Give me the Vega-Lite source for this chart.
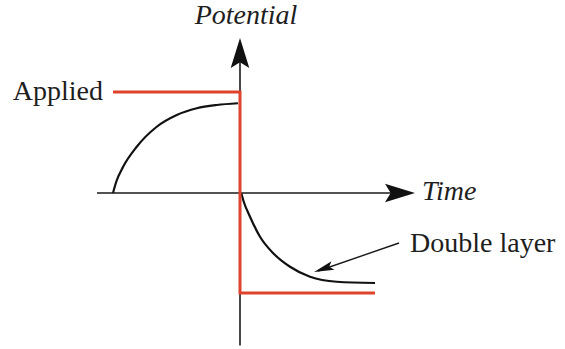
{
  "$schema": "https://vega.github.io/schema/vega-lite/v6.json",
  "width": 565,
  "height": 349,
  "padding": 0,
  "autosize": {"type": "fit", "contains": "padding"},
  "background": "white",
  "config": {"view": {"stroke": null}},
  "datasets": {
    "applied": [
      {"order": 1, "t": -5.08, "v": 4.04},
      {"order": 2, "t": 0.0, "v": 4.04},
      {"order": 3, "t": 0.0, "v": -4.0},
      {"order": 4, "t": 5.4, "v": -4.0}
    ],
    "response": [
      {"segment": "before", "t": -5.08, "v": 0.0},
      {"segment": "before", "t": -4.95, "v": 0.45},
      {"segment": "before", "t": -4.68, "v": 1.04},
      {"segment": "before", "t": -4.13, "v": 1.85},
      {"segment": "before", "t": -3.33, "v": 2.65},
      {"segment": "before", "t": -2.53, "v": 3.12},
      {"segment": "before", "t": -1.73, "v": 3.39},
      {"segment": "before", "t": -0.93, "v": 3.52},
      {"segment": "before", "t": -0.08, "v": 3.59},
      {"segment": "after", "t": 0.05, "v": 0.0},
      {"segment": "after", "t": 0.15, "v": -0.35},
      {"segment": "after", "t": 0.4, "v": -0.95},
      {"segment": "after", "t": 0.8, "v": -1.75},
      {"segment": "after", "t": 1.33, "v": -2.41},
      {"segment": "after", "t": 2.0, "v": -2.95},
      {"segment": "after", "t": 2.8, "v": -3.35},
      {"segment": "after", "t": 3.87, "v": -3.55},
      {"segment": "after", "t": 5.4, "v": -3.6}
    ],
    "axes": [
      {"name": "time axis", "t": -5.72, "v": 0.0, "t2": 6.5, "v2": 0.0},
      {"name": "potential axis", "t": 0.0, "v": -6.1, "t2": 0.0, "v2": 5.6}
    ],
    "pointer": [
      {"name": "double layer pointer", "t": 3.12, "v": -3.12, "t2": 6.36, "v2": -2.0}
    ],
    "headUp": [{"t": 0.0, "v": 5.6}],
    "headRight": [{"t": 6.4, "v": 0.0}],
    "headPointer": [{"t": 3.34, "v": -3.03}],
    "labelPotential": [{"label": "Potential", "t": 0.24, "v": 6.76}],
    "labelTime": [{"label": "Time", "t": 7.28, "v": -0.28}],
    "labelApplied": [{"label": "Applied", "t": -5.48, "v": 3.74}],
    "labelDouble": [{"label": "Double layer", "t": 6.8, "v": -2.36}]
  },
  "layer": [
    {
      "data": {"name": "axes"},
      "mark": {"type": "rule", "color": "#1a1a1a", "strokeWidth": 1.6},
      "encoding": {
        "x": {"field": "t", "type": "quantitative", "scale": {"domain": [-9.6, 13.0], "nice": false, "zero": false}, "axis": null},
        "y": {"field": "v", "type": "quantitative", "scale": {"domain": [-6.24, 7.72], "nice": false, "zero": false}, "axis": null},
        "x2": {"field": "t2"},
        "y2": {"field": "v2"}
      }
    },
    {
      "data": {"name": "response"},
      "mark": {"type": "line", "color": "#111111", "strokeWidth": 2.2, "interpolate": "monotone"},
      "encoding": {
        "x": {"field": "t", "type": "quantitative"},
        "y": {"field": "v", "type": "quantitative"},
        "detail": {"field": "segment"}
      }
    },
    {
      "data": {"name": "applied"},
      "mark": {"type": "line", "color": "#e0432b", "strokeWidth": 3, "strokeJoin": "miter"},
      "encoding": {
        "x": {"field": "t", "type": "quantitative"},
        "y": {"field": "v", "type": "quantitative"},
        "order": {"field": "order", "type": "quantitative"}
      }
    },
    {
      "data": {"name": "pointer"},
      "mark": {"type": "rule", "color": "#1a1a1a", "strokeWidth": 1.4},
      "encoding": {
        "x": {"field": "t", "type": "quantitative"},
        "y": {"field": "v", "type": "quantitative"},
        "x2": {"field": "t2"},
        "y2": {"field": "v2"}
      }
    },
    {
      "data": {"name": "headUp"},
      "mark": {"type": "point", "shape": "M0,-1L0.62,1L0,0.62L-0.62,1Z", "filled": true, "color": "#111111", "opacity": 1, "size": 900, "angle": 0},
      "encoding": {
        "x": {"field": "t", "type": "quantitative"},
        "y": {"field": "v", "type": "quantitative"}
      }
    },
    {
      "data": {"name": "headRight"},
      "mark": {"type": "point", "shape": "M0,-1L0.62,1L0,0.62L-0.62,1Z", "filled": true, "color": "#111111", "opacity": 1, "size": 900, "angle": 90},
      "encoding": {
        "x": {"field": "t", "type": "quantitative"},
        "y": {"field": "v", "type": "quantitative"}
      }
    },
    {
      "data": {"name": "headPointer"},
      "mark": {"type": "point", "shape": "M0,-1L0.45,1L0,0.6L-0.45,1Z", "filled": true, "color": "#111111", "opacity": 1, "size": 400, "angle": 250.7},
      "encoding": {
        "x": {"field": "t", "type": "quantitative"},
        "y": {"field": "v", "type": "quantitative"}
      }
    },
    {
      "data": {"name": "labelPotential"},
      "mark": {"type": "text", "font": "Liberation Serif", "fontSize": 28, "fontStyle": "italic", "color": "#1e1e1e", "baseline": "alphabetic", "align": "center"},
      "encoding": {
        "x": {"field": "t", "type": "quantitative"},
        "y": {"field": "v", "type": "quantitative"},
        "text": {"field": "label"}
      }
    },
    {
      "data": {"name": "labelTime"},
      "mark": {"type": "text", "font": "Liberation Serif", "fontSize": 28, "fontStyle": "italic", "color": "#1e1e1e", "baseline": "alphabetic", "align": "left"},
      "encoding": {
        "x": {"field": "t", "type": "quantitative"},
        "y": {"field": "v", "type": "quantitative"},
        "text": {"field": "label"}
      }
    },
    {
      "data": {"name": "labelApplied"},
      "mark": {"type": "text", "font": "Liberation Serif", "fontSize": 28, "color": "#1e1e1e", "baseline": "alphabetic", "align": "right"},
      "encoding": {
        "x": {"field": "t", "type": "quantitative"},
        "y": {"field": "v", "type": "quantitative"},
        "text": {"field": "label"}
      }
    },
    {
      "data": {"name": "labelDouble"},
      "mark": {"type": "text", "font": "Liberation Serif", "fontSize": 28, "color": "#1e1e1e", "baseline": "alphabetic", "align": "left"},
      "encoding": {
        "x": {"field": "t", "type": "quantitative"},
        "y": {"field": "v", "type": "quantitative"},
        "text": {"field": "label"}
      }
    }
  ]
}
